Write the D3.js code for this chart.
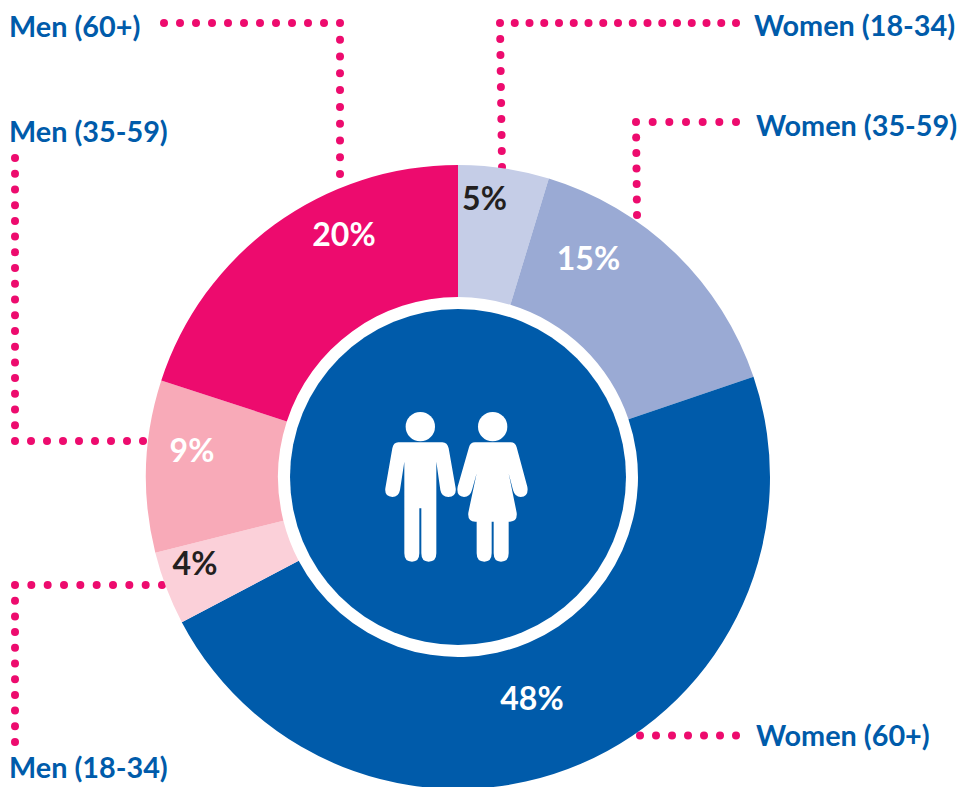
<!DOCTYPE html>
<html>
<head>
<meta charset="utf-8">
<script src="https://cdn.jsdelivr.net/npm/d3@7/dist/d3.min.js"></script>
<style>
html,body{margin:0;padding:0;background:#fff;overflow:hidden}
svg{display:block}
text{font-family:Lato,Carlito,"Open Sans",sans-serif;font-weight:700}
</style>
</head>
<body>
<svg id="chart" width="975" height="787"></svg>
<script>
// Data, clockwise from 12 o'clock (shares, labelled rounded)
const categories = ["Women (18-34)","Women (35-59)","Women (60+)","Men (18-34)","Men (35-59)","Men (60+)"];
const shares = [4.7,15.1,47.5,3.8,8.9,20];
const sliceColors = ["#C5CDE7","#9AAAD4","#005BAA","#FBD0D9","#F8AAB8","#ED0B6E"];
const valueColors = ["#231F20","#FFFFFF","#FFFFFF","#231F20","#FFFFFF","#FFFFFF"];

const W=975,H=787,cx=458,cy=477,R=312,rHole=180,rDisc=168;
const BLUE="#005BAA",DOT="#ED0B6E";
const svg=d3.select("#chart");

// leader lines: each is a list of [x,y] legs with a dot count per leg
const leaders=[
 {legs:[[[736,23],[500,23],16],[[500,23],[502,167],9]]},
 {legs:[[[736,122],[636,122],6],[[636,122],[637,215],6]]},
 {legs:[[[736,735.5],[624,735.5],7]]},
 {legs:[[[162,585],[15,585],9],[[15,585],[15,742],10]]},
 {legs:[[[143,441],[15,441],8],[[15,441],[15,158],18]]},
 {legs:[[[164,23],[340,23],11],[[340,23],[340,174],9]]}
];
const dotData=[];
leaders.forEach(l=>{
  l.legs.forEach((leg,li)=>{
    const [a,b,n]=leg;
    const x=d3.scaleLinear().domain([0,n]).range([a[0],b[0]]);
    const y=d3.scaleLinear().domain([0,n]).range([a[1],b[1]]);
    d3.range(li===0?0:1,n+1).forEach(i=>dotData.push([x(i),y(i)]));
  });
});
svg.append("g").selectAll("circle").data(dotData).join("circle")
  .attr("cx",d=>d[0]).attr("cy",d=>d[1]).attr("r",4).attr("fill",DOT);

// donut
const pie=d3.pie().sort(null).value(d=>d);
const arc=d3.arc().innerRadius(rHole).outerRadius(R);
const g=svg.append("g").attr("transform",`translate(${cx},${cy})`);
g.selectAll("path").data(pie(shares)).join("path")
  .attr("d",arc).attr("fill",(d,i)=>sliceColors[i]);
g.append("circle").attr("r",rDisc).attr("fill",BLUE);

// people icon
const icon=svg.append("g").attr("transform","translate(360,390) scale(0.33333)").attr("fill","#fff");
icon.append("circle").attr("cx",181).attr("cy",110).attr("r",44);
icon.append("circle").attr("cx",398).attr("cy",110).attr("r",44);
icon.append("path").attr("d","M115,157 H247 Q262,157 266,175 L287,295 Q290,320 265,321 Q245,321 241,300 L229,215 V490 Q229,515 206,515 Q184,515 184,490 V355 H178 V490 Q178,515 156,515 Q133,515 133,490 V215 L120,300 Q116,321 97,321 Q73,320 76,295 L97,175 Q100,157 115,157 Z");
icon.append("path").attr("d","M345,157 H452 Q466,157 470,172 L502,290 Q507,320 482,321 Q465,321 459,300 L446,250 L470,368 Q473,395 450,395 H446 V490 Q446,515 423,515 Q401,515 401,490 V395 H395 V490 Q395,515 373,515 Q350,515 350,490 V395 H346 Q322,395 325,368 L350,250 L336,300 Q330,321 312,321 Q288,320 293,290 L327,172 Q331,157 345,157 Z");

// value labels
const fmt=d3.format(".0f");
const valuePos=[[484.5,197.5],[588.5,257.5],[532,697.5],[195,562.5],[192,449.5],[344,233.5]];
svg.append("g").selectAll("text").data(shares).join("text")
  .attr("x",(d,i)=>valuePos[i][0]).attr("y",(d,i)=>valuePos[i][1])
  .attr("text-anchor","middle").attr("dominant-baseline","central")
  .attr("font-size",32).attr("fill",(d,i)=>valueColors[i]).text(d=>fmt(d)+"%");

// category labels
const catPos=[[754,25],[756,125],[756,735],[9,767],[9,131],[9,26]];
svg.append("g").selectAll("text").data(categories).join("text")
  .attr("x",(d,i)=>catPos[i][0]).attr("y",(d,i)=>catPos[i][1])
  .attr("dominant-baseline","central")
  .attr("font-size",28.8).attr("fill",BLUE).text(d=>d);
</script>
</body>
</html>
